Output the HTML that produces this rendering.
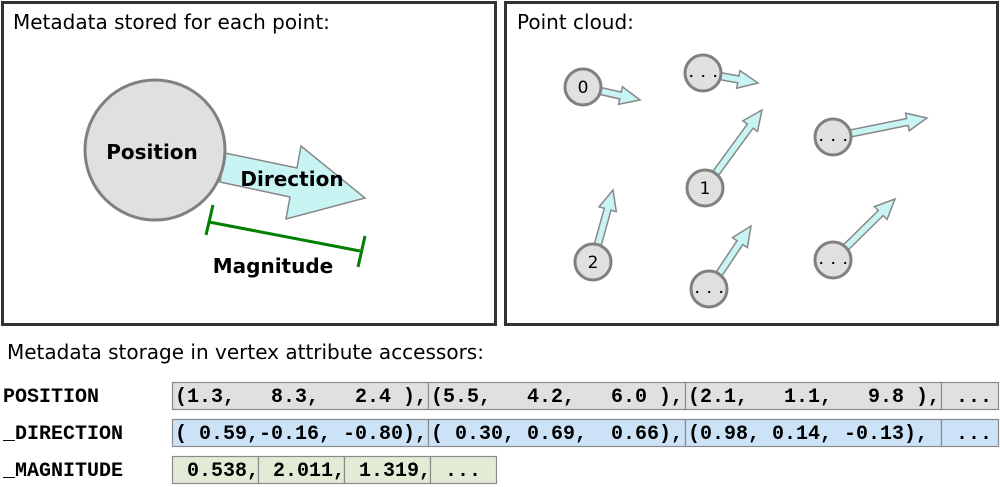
<!DOCTYPE html>
<html><head><meta charset="utf-8"><style>
html,body{margin:0;padding:0;background:#fff;}
svg{display:block;}
text{font-family:"DejaVu Sans","Liberation Sans",sans-serif;}
text.mono{font-family:"Liberation Mono","DejaVu Sans Mono",monospace;font-weight:bold;font-size:20px;letter-spacing:0px;}
text.dots{font-family:"Liberation Mono","DejaVu Sans Mono",monospace;font-weight:bold;font-size:14px;letter-spacing:3.6px;}
</style></head><body>
<svg id="s" width="1000" height="487" viewBox="0 0 1000 487" xmlns="http://www.w3.org/2000/svg">
<rect x="2.5" y="2.5" width="493" height="322" fill="#fff" stroke="#333" stroke-width="3"/>
<rect x="505.5" y="2.5" width="492" height="322" fill="#fff" stroke="#333" stroke-width="3"/>
<text x="13" y="29" font-size="20">Metadata stored for each point:</text>
<text x="517" y="29" font-size="20">Point cloud:</text>
<polygon points="225,153 297,168 301,146 365,198 286,219 290,197 220,182" fill="#c8f4f4" stroke="#888" stroke-width="1.5"/>
<circle cx="155" cy="150" r="70" fill="#e0e0e0" stroke="#808080" stroke-width="3"/>
<text x="152" y="159" font-size="20" font-weight="bold" text-anchor="middle">Position</text>
<text x="292" y="186" font-size="20" font-weight="bold" text-anchor="middle">Direction</text>
<g stroke="#008000" stroke-width="3">
<line x1="209" y1="222" x2="360" y2="251"/>
<line x1="206" y1="235" x2="213" y2="205"/>
<line x1="358" y1="267" x2="365" y2="236"/>
</g>
<text x="273" y="273" font-size="20" font-weight="bold" text-anchor="middle">Magnitude</text>
<g id="cloud"></g>
<text x="7" y="359" font-size="20">Metadata storage in vertex attribute accessors:</text>
<g id="table"></g>
</svg>
<script>
const NS="http://www.w3.org/2000/svg";
const pointLabels=["0","...","1","...","2","...","..."];
const pointX=[583,703,705,833,593,709,833];
const pointY=[87,73,188,137,262,289,260];
const tipX=[640,758,762,927,613,751,895];
const tipY=[100,83,110,118,190,226,199];
const cloud=document.getElementById('cloud');
function mk(t,a,p){const e=document.createElementNS(NS,t);for(const k in a)e.setAttribute(k,a[k]);p.appendChild(e);return e;}
for(let i=0;i<pointLabels.length;i++){
  const cx=pointX[i],cy=pointY[i],tx=tipX[i],ty=tipY[i];
  const dx=tx-cx,dy=ty-cy,L=Math.hypot(dx,dy),ux=dx/L,uy=dy/L,nx=-uy,ny=ux;
  const sw=3.5,hw=9,hl=20;
  const bx=tx-ux*hl,by=ty-uy*hl;
  const pts=[[cx+nx*sw,cy+ny*sw],[bx+nx*sw,by+ny*sw],[bx+nx*hw,by+ny*hw],[tx,ty],[bx-nx*hw,by-ny*hw],[bx-nx*sw,by-ny*sw],[cx-nx*sw,cy-ny*sw]];
  const ar=mk('polygon',{points:pts.map(p=>p.join(',')).join(' '),fill:'#c8f4f4',stroke:'#888','stroke-width':1.5},cloud);
  
  
  const c=mk('circle',{cx:cx,cy:cy,r:18,fill:'#e0e0e0',stroke:'#808080','stroke-width':3},cloud);
  
  
  const dots=pointLabels[i]==='...';
  const t=mk('text',dots?{x:cx+2,y:cy+4,'text-anchor':'middle','class':'dots'}:{x:cx,y:cy+6,'text-anchor':'middle','font-size':'17'},cloud);
  
  
  t.textContent=pointLabels[i];
}
const rowNames=["POSITION","_DIRECTION","_MAGNITUDE"];
const rowY=[382,419,456];
const rowFill=["#e0e0e0","#cce2f6","#e1ebd5"];
const posCells=["(1.3,   8.3,   2.4 ),","(5.5,   4.2,   6.0 ),","(2.1,   1.1,   9.8 ),"," ..."];
const dirCells=["( 0.59,-0.16, -0.80),","( 0.30, 0.69,  0.66),","(0.98, 0.14, -0.13),"," ..."];
const magCells=[" 0.538,"," 2.011,"," 1.319,"," ..."];
const bigX=[172,428,685,941,998],smallX=[172,258,344,430,496];
const tbl=document.getElementById('table');
[posCells,dirCells,magCells].forEach((cells,r)=>{
  const lab=mk('text',{x:3,y:rowY[r]+20,'class':'mono'},tbl);
  
  
  lab.textContent=rowNames[r];
  const xs=r===2?smallX:bigX;
  cells.forEach((v,j)=>{
    const rc=mk('rect',{x:xs[j]+.5,y:rowY[r]+.5,width:xs[j+1]-xs[j],height:27,fill:rowFill[r],stroke:'#8a8a8a','stroke-width':1.2},tbl);
    
    
    const t=mk('text',{x:xs[j]+3,y:rowY[r]+20,'class':'mono','xml:space':'preserve'},tbl);
    
    
    t.style.whiteSpace='pre';
    t.textContent=v;
  });
});
</script>
</body></html>
